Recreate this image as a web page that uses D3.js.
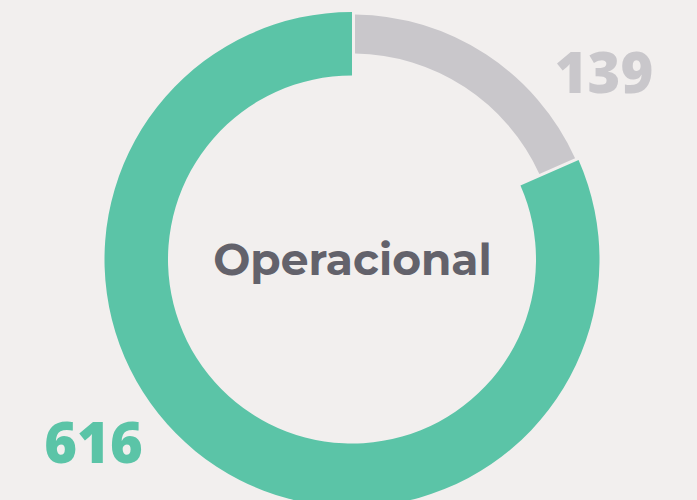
<!DOCTYPE html>
<html>
<head>
<meta charset="utf-8">
<script src="https://cdn.jsdelivr.net/npm/d3@7"></script>
<style>
  html, body { margin: 0; padding: 0; background: #f2efee; }
  svg { display: block; }
</style>
</head>
<body>
<svg id="chart" width="697" height="500"></svg>
<script>
// Donut: share of "Operacional" items
const categories = ["Otros", "Operacional"];
const values = [139, 616];
const colors = ["#c9c7cb", "#5bc4a7"];
const centerLabel = "Operacional";

const width = 697, height = 500;
const cx = 352, cy = 259.5;

// the highlighted slice is drawn as the full-width ring, the rest thinner and inset
const ringSize = {
  "Operacional": { inner: 184, outer: 247.5, gap: 0 },
  "Otros": { inner: 206, outer: 245, gap: 3 }
};

const svg = d3.select("#chart");
svg.append("rect").attr("width", width).attr("height", height).attr("fill", "#f2efee");

const pie = d3.pie().sort(null).value(d => d);
const color = d3.scaleOrdinal().domain(categories).range(colors);
const padR = 225;

const arcFor = (d, i) => {
  const s = ringSize[categories[i]];
  return d3.arc()
    .innerRadius(s.inner)
    .outerRadius(s.outer)
    .padRadius(padR)
    .padAngle(2 * s.gap / padR)(d);
};

const g = svg.append("g").attr("transform", `translate(${cx},${cy})`);
g.selectAll("path")
  .data(pie(values))
  .join("path")
  .attr("d", arcFor)
  .attr("fill", (d, i) => color(categories[i]));

svg.append("text")
  .attr("x", cx + 0.5)
  .attr("y", 275)
  .attr("text-anchor", "middle")
  .attr("font-family", "Montserrat, 'Open Sans', sans-serif")
  .attr("font-weight", 700)
  .attr("font-size", 44)
  .attr("fill", "#63626b")
  .text(centerLabel);

// value labels
svg.append("text")
  .attr("x", 604)
  .attr("y", 93)
  .attr("text-anchor", "middle")
  .attr("font-family", "'Open Sans', sans-serif")
  .attr("font-weight", 800)
  .attr("font-size", 56)
  .attr("fill", colors[0])
  .text(values[0]);

svg.append("text")
  .attr("x", 93.5)
  .attr("y", 463)
  .attr("text-anchor", "middle")
  .attr("font-family", "'Open Sans', sans-serif")
  .attr("font-weight", 800)
  .attr("font-size", 56)
  .attr("fill", colors[1])
  .text(values[1]);
</script>
</body>
</html>
